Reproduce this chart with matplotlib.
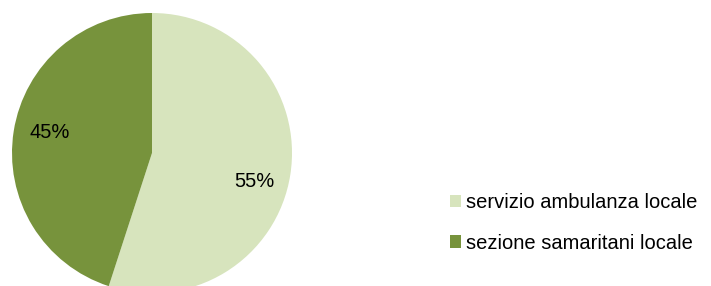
import matplotlib.pyplot as plt

labels = ["servizio ambulanza locale", "sezione samaritani locale"]
values = [55, 45]
colors = ["#d7e4bd", "#77933c"]

plt.rcParams['font.family'] = ['Liberation Sans', 'DejaVu Sans']

fig = plt.figure(figsize=(7.11, 2.86), dpi=100)
# pie axes: centre ~ (152,153) px, radius ~140 px, bottom runs off the figure
ax = fig.add_axes([12 / 711, (286 - 293) / 286, 280 / 711, 280 / 286])
wedges, texts, autotexts = ax.pie(values, colors=colors, startangle=90, counterclock=False,
                                  autopct='%1.0f%%', pctdistance=0.74,
                                  textprops={'fontsize': 14.5, 'color': 'black'},
                                  radius=1, frame=False)
# excel-like label placement
x, y = autotexts[0].get_position()
autotexts[0].set_position((x, y - 0.09))
x, y = autotexts[1].get_position()
autotexts[1].set_position((x, y + 0.03))

ax.set_xlim(-1, 1)
ax.set_ylim(-1, 1)
ax.set_aspect('auto')
ax.axis('off')

fig.legend(wedges, labels, loc='center left', bbox_to_anchor=(450 / 711, 1 - 223 / 286),
           frameon=False, fontsize=14.5, handlelength=0.55, handleheight=0.55,
           handletextpad=0.22, labelspacing=1.05, borderpad=0, borderaxespad=0)

fig.savefig('out.png', dpi=100)
